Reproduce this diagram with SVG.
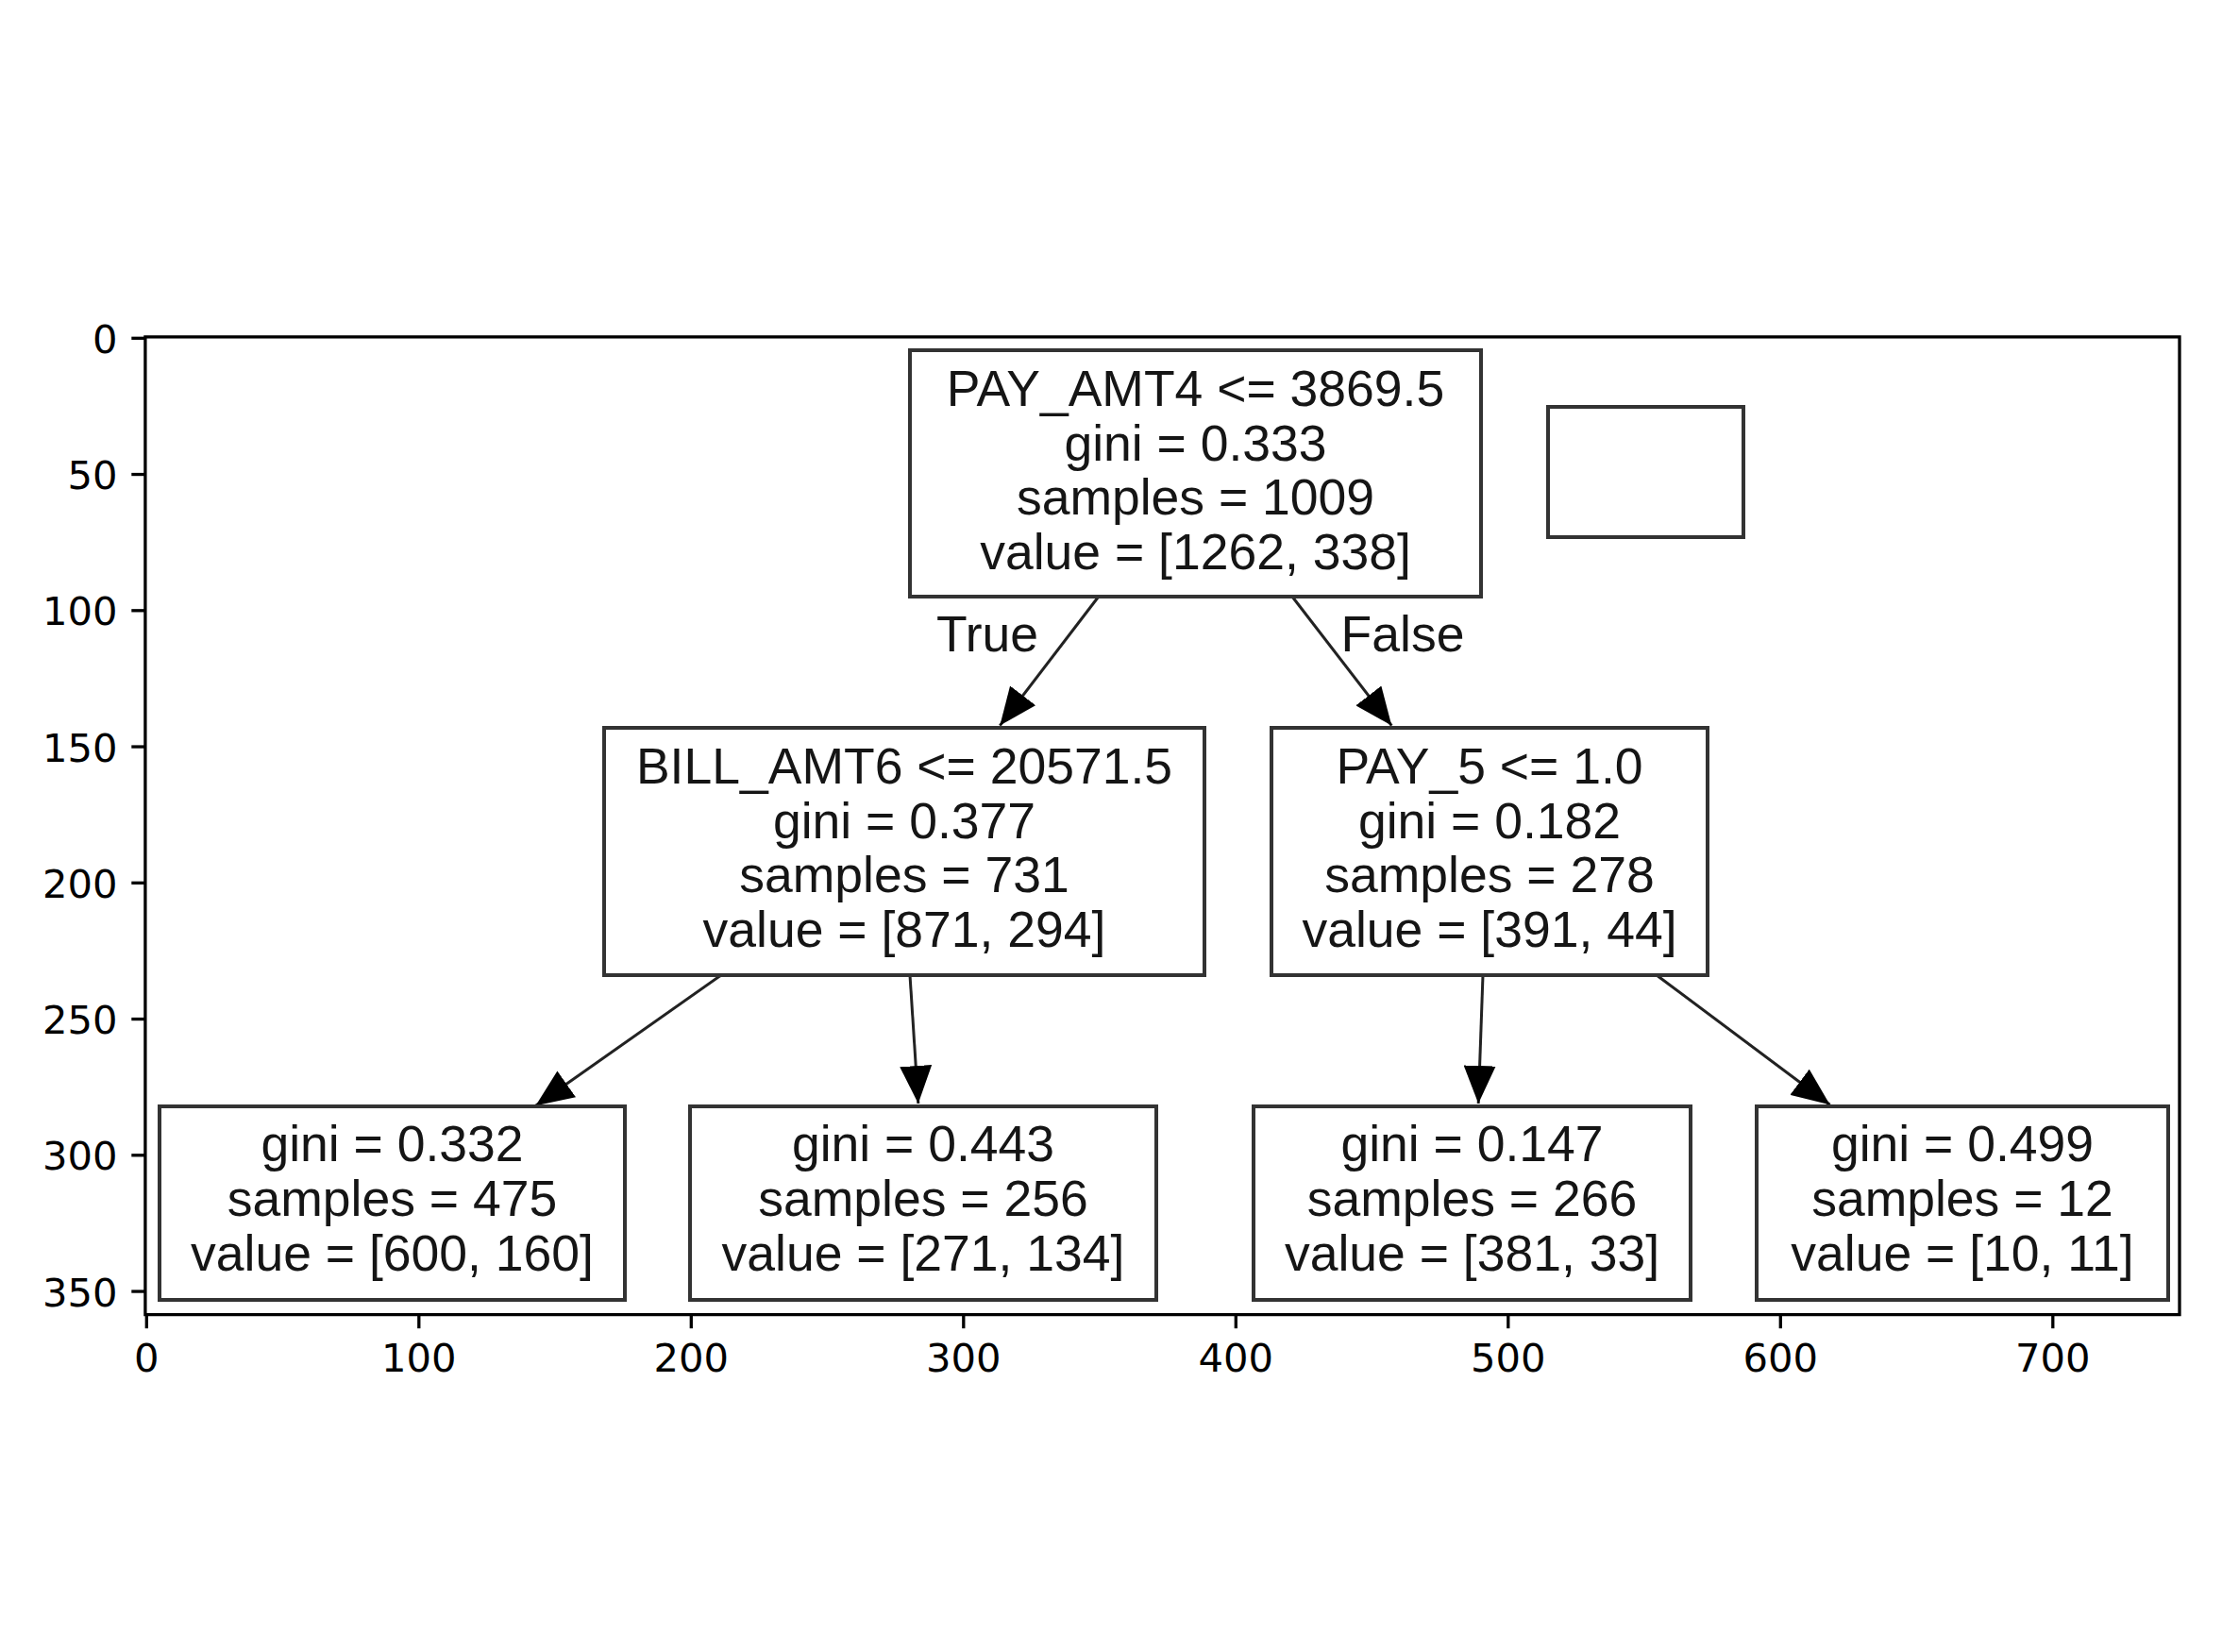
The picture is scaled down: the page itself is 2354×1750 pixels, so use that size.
<svg xmlns="http://www.w3.org/2000/svg" width="2354" height="1750" viewBox="0 0 2354 1750">
<style>
.box{fill:#fff;stroke:#333;stroke-width:4}
.nt{font-family:"Liberation Sans",Arial,sans-serif;font-size:53.5px;fill:#151515;text-anchor:middle}
.edge{stroke:#222;stroke-width:3;fill:none}
.spine{stroke:#000;stroke-width:3.3;fill:none}
.tick{stroke:#000;stroke-width:3.3}
.tl{font-family:"DejaVu Sans",sans-serif;font-size:41.7px;fill:#000}
</style>
<defs>
<marker id="arr" markerUnits="userSpaceOnUse" markerWidth="42" markerHeight="34" refX="40" refY="17" orient="auto">
<path d="M0,0 L40,17 L0,34 z" fill="#000"/>
</marker>
</defs>
<rect width="2354" height="1750" fill="#fff"/>

<g id="axes">
<rect class="spine" x="153.9" y="356.9" width="2155.1" height="1035.7"/>
<g id="yticks">
<line class="tick" x1="139.3" y1="358.3" x2="153.9" y2="358.3"/>
<line class="tick" x1="139.3" y1="502.55" x2="153.9" y2="502.55"/>
<line class="tick" x1="139.3" y1="646.8" x2="153.9" y2="646.8"/>
<line class="tick" x1="139.3" y1="791.05" x2="153.9" y2="791.05"/>
<line class="tick" x1="139.3" y1="935.3" x2="153.9" y2="935.3"/>
<line class="tick" x1="139.3" y1="1079.55" x2="153.9" y2="1079.55"/>
<line class="tick" x1="139.3" y1="1223.8" x2="153.9" y2="1223.8"/>
<line class="tick" x1="139.3" y1="1368.05" x2="153.9" y2="1368.05"/>
<g class="tl" text-anchor="end">
<text x="124.5" y="373.8">0</text>
<text x="124.5" y="518">50</text>
<text x="124.5" y="662.3">100</text>
<text x="124.5" y="806.5">150</text>
<text x="124.5" y="950.8">200</text>
<text x="124.5" y="1095">250</text>
<text x="124.5" y="1239.3">300</text>
<text x="124.5" y="1383.5">350</text>
</g>
</g>
<g id="xticks">
<line class="tick" x1="155.3" y1="1392.6" x2="155.3" y2="1407.2"/>
<line class="tick" x1="443.8" y1="1392.6" x2="443.8" y2="1407.2"/>
<line class="tick" x1="732.3" y1="1392.6" x2="732.3" y2="1407.2"/>
<line class="tick" x1="1020.8" y1="1392.6" x2="1020.8" y2="1407.2"/>
<line class="tick" x1="1309.3" y1="1392.6" x2="1309.3" y2="1407.2"/>
<line class="tick" x1="1597.8" y1="1392.6" x2="1597.8" y2="1407.2"/>
<line class="tick" x1="1886.3" y1="1392.6" x2="1886.3" y2="1407.2"/>
<line class="tick" x1="2174.8" y1="1392.6" x2="2174.8" y2="1407.2"/>
<g class="tl" text-anchor="middle">
<text x="155.3" y="1453">0</text>
<text x="443.8" y="1453">100</text>
<text x="732.3" y="1453">200</text>
<text x="1020.8" y="1453">300</text>
<text x="1309.3" y="1453">400</text>
<text x="1597.8" y="1453">500</text>
<text x="1886.3" y="1453">600</text>
<text x="2174.8" y="1453">700</text>
</g>
</g>
</g>

<g id="connectors">
<line class="edge" x1="1163.8" y1="632" x2="1059.3" y2="768.6" marker-end="url(#arr)"/>
<line class="edge" x1="1369" y1="632" x2="1474.3" y2="768.6" marker-end="url(#arr)"/>
<line class="edge" x1="764" y1="1033" x2="567.5" y2="1171.3" marker-end="url(#arr)"/>
<line class="edge" x1="964" y1="1033" x2="972.8" y2="1169" marker-end="url(#arr)"/>
<line class="edge" x1="1571" y1="1033" x2="1566.2" y2="1169" marker-end="url(#arr)"/>
<line class="edge" x1="1755" y1="1033" x2="1938.6" y2="1170.2" marker-end="url(#arr)"/>
<text class="nt" x="1046" y="690">True</text>
<text class="nt" x="1486" y="690">False</text>
</g>

<g id="node-root">
<rect class="box" x="964" y="371" width="605" height="261"/>
<text class="nt" x="1266.5" y="430">PAY_AMT4 &lt;= 3869.5</text>
<text class="nt" x="1266.5" y="487.5">gini = 0.333</text>
<text class="nt" x="1266.5" y="545">samples = 1009</text>
<text class="nt" x="1266.5" y="602.5">value = [1262, 338]</text>
</g>

<g id="node-empty">
<rect class="box" x="1640" y="431" width="207" height="138"/>
</g>

<g id="node-bill">
<rect class="box" x="640" y="771" width="636" height="262"/>
<text class="nt" x="958" y="830">BILL_AMT6 &lt;= 20571.5</text>
<text class="nt" x="958" y="887.5">gini = 0.377</text>
<text class="nt" x="958" y="945">samples = 731</text>
<text class="nt" x="958" y="1002.5">value = [871, 294]</text>
</g>

<g id="node-pay5">
<rect class="box" x="1347" y="771" width="462" height="262"/>
<text class="nt" x="1578" y="830">PAY_5 &lt;= 1.0</text>
<text class="nt" x="1578" y="887.5">gini = 0.182</text>
<text class="nt" x="1578" y="945">samples = 278</text>
<text class="nt" x="1578" y="1002.5">value = [391, 44]</text>
</g>

<g id="leaf-1">
<rect class="box" x="169" y="1172" width="493" height="205"/>
<text class="nt" x="415.5" y="1230">gini = 0.332</text>
<text class="nt" x="415.5" y="1288">samples = 475</text>
<text class="nt" x="415.5" y="1346">value = [600, 160]</text>
</g>

<g id="leaf-2">
<rect class="box" x="731" y="1172" width="494" height="205"/>
<text class="nt" x="978" y="1230">gini = 0.443</text>
<text class="nt" x="978" y="1288">samples = 256</text>
<text class="nt" x="978" y="1346">value = [271, 134]</text>
</g>

<g id="leaf-3">
<rect class="box" x="1328" y="1172" width="463" height="205"/>
<text class="nt" x="1559.5" y="1230">gini = 0.147</text>
<text class="nt" x="1559.5" y="1288">samples = 266</text>
<text class="nt" x="1559.5" y="1346">value = [381, 33]</text>
</g>

<g id="leaf-4">
<rect class="box" x="1861" y="1172" width="436" height="205"/>
<text class="nt" x="2079" y="1230">gini = 0.499</text>
<text class="nt" x="2079" y="1288">samples = 12</text>
<text class="nt" x="2079" y="1346">value = [10, 11]</text>
</g>
</svg>
